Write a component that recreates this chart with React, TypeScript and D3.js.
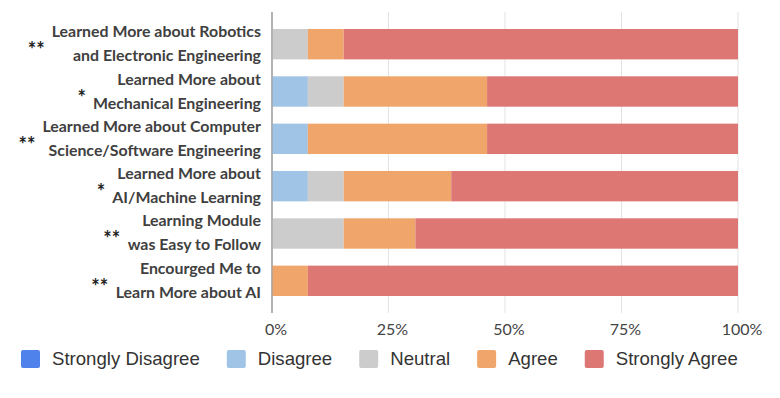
import { useEffect, useMemo } from 'react'
import * as d3 from 'd3'

const WIDTH = 780
const HEIGHT = 398
const MARGIN = { top: 12, right: 42, bottom: 85, left: 272 }

// labels, split into two lines as in the picture
const labelLine1 = [
  'Learned More about Robotics',
  'Learned More about',
  'Learned More about Computer',
  'Learned More about',
  'Learning Module',
  'Encourged Me to',
]
const labelLine2 = [
  'and Electronic Engineering',
  'Mechanical Engineering',
  'Science/Software Engineering',
  'AI/Machine Learning',
  'was Easy to Follow',
  'Learn More about AI',
]
const stars = ['**', '*', '**', '*', '**', '**']

const levels = ['Strongly Disagree', 'Disagree', 'Neutral', 'Agree', 'Strongly Agree']

// response counts per row (13 respondents)
const stronglyDisagree = [0, 0, 0, 0, 0, 0]
const disagree = [0, 1, 1, 1, 0, 0]
const neutral = [1, 1, 0, 1, 2, 0]
const agree = [1, 4, 5, 3, 2, 1]
const stronglyAgree = [11, 7, 7, 8, 9, 12]

const tickValues = [0, 0.25, 0.5, 0.75, 1]
const tickLabels = ['0%', '25%', '50%', '75%', '100%']

const COLORS = ['#5082eb', '#a0c4e6', '#cccccc', '#f0a66a', '#dd7774']

const LABEL_SIZE = 15.9
const LABEL_FONT = `bold ${LABEL_SIZE}px Lato`
const LEGEND_SIZE = 18.6
const LEGEND_FONT = `${LEGEND_SIZE}px "Liberation Sans"`

function measure(text: string, font: string) {
  const ctx = document.createElement('canvas').getContext('2d')
  if (!ctx) return text.length * 8
  ctx.font = font
  return ctx.measureText(text).width
}

export default function App() {
  useEffect(() => {
    document.body.style.margin = '0'
  }, [])

  const innerWidth = WIDTH - MARGIN.left - MARGIN.right
  const innerHeight = HEIGHT - MARGIN.top - MARGIN.bottom

  const rows = useMemo(
    () =>
      labelLine1.map((l1, i) => ({
        key: `${l1} ${labelLine2[i]}`,
        'Strongly Disagree': stronglyDisagree[i],
        Disagree: disagree[i],
        Neutral: neutral[i],
        Agree: agree[i],
        'Strongly Agree': stronglyAgree[i],
      })),
    []
  )

  const series = d3
    .stack<any>()
    .keys(levels)
    .offset(d3.stackOffsetExpand)(rows)

  const x = d3.scaleLinear().domain([0, 1]).range([0, innerWidth])
  const y = d3
    .scaleBand()
    .domain(rows.map(r => r.key))
    .range([0, innerHeight])
    .paddingInner(0.358)
    .paddingOuter(0.359)

  const color = d3.scaleOrdinal<string, string>().domain(levels).range(COLORS)

  // legend layout from text widths
  const legendItems: { name: string; x: number }[] = []
  let lx = 21
  levels.forEach(name => {
    legendItems.push({ name, x: lx })
    lx += 19 + 12 + measure(name, LEGEND_FONT) + 27
  })

  return (
    <svg width={WIDTH} height={HEIGHT} style={{ display: 'block', background: '#fff' }}>
      <g transform={`translate(${MARGIN.left}, ${MARGIN.top})`}>
        {/* grid */}
        {tickValues.map((t, i) => (
          <line
            key={`grid-${i}`}
            x1={x(t)}
            x2={x(t)}
            y1={0}
            y2={innerHeight}
            stroke={t === 0 ? '#999' : '#e3e3e3'}
            strokeWidth={1}
          />
        ))}

        {/* bars */}
        {series.map(s => (
          <g key={s.key} fill={color(s.key)}>
            {s.map((d, i) => (
              <rect
                key={i}
                x={x(d[0])}
                y={y(rows[i].key)}
                width={Math.max(0, x(d[1]) - x(d[0]))}
                height={y.bandwidth()}
              />
            ))}
          </g>
        ))}

        {/* axis line on top */}
        <line x1={0} x2={0} y1={0} y2={innerHeight} stroke="#999" />

        {/* tick labels */}
        {tickValues.map((t, i) => (
          <text
            key={`tick-${i}`}
            x={x(t) + 4}
            y={innerHeight + 22}
            textAnchor="middle"
            fontFamily="Lato"
            fontSize={16}
            fill="#444"
          >
            {tickLabels[i]}
          </text>
        ))}

        {/* category labels */}
        {rows.map((r, i) => {
          const cy = (y(r.key) ?? 0) + y.bandwidth() / 2
          const w = Math.max(measure(labelLine1[i], LABEL_FONT), measure(labelLine2[i], LABEL_FONT))
          return (
            <g key={r.key} fontFamily="Lato" fontWeight="bold" fontSize={LABEL_SIZE} fill="#404040">
              <text x={-11} y={cy - 7} textAnchor="end">{labelLine1[i]}</text>
              <text x={-11} y={cy + 17} textAnchor="end">{labelLine2[i]}</text>
              <text x={-11 - w - 7} y={cy + 13} textAnchor="end" fontSize={20} fill="#222">
                {stars[i]}
              </text>
            </g>
          )
        })}
      </g>

      {/* legend */}
      <g transform="translate(0, 350)">
        {legendItems.map(item => (
          <g key={item.name} transform={`translate(${item.x}, 0)`}>
            <rect width={19} height={18} rx={2} fill={color(item.name)} />
            <text
              x={31}
              y={15}
              fontFamily="Liberation Sans"
              fontSize={LEGEND_SIZE}
              fill="#333"
            >
              {item.name}
            </text>
          </g>
        ))}
      </g>
    </svg>
  )
}
